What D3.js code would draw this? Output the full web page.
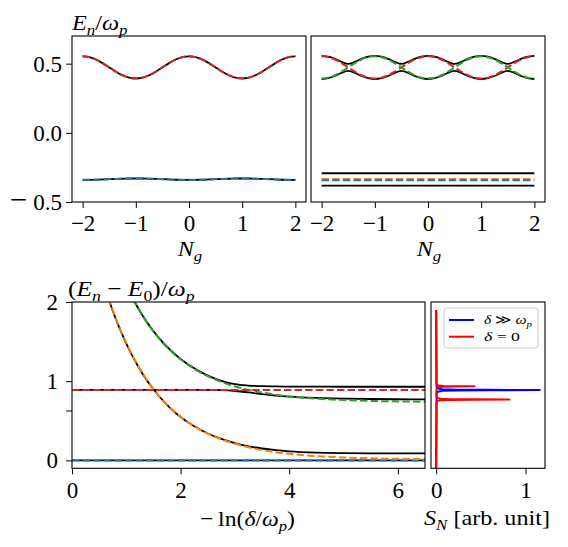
<!DOCTYPE html>
<html><head><meta charset="utf-8">
<script src="https://cdn.jsdelivr.net/npm/d3@7"></script>
<style>
body{margin:0;background:#fff}
text{font-family:"Liberation Serif","DejaVu Serif",serif;fill:#000}
</style>
</head><body>
<svg id="c" width="568" height="547" xmlns="http://www.w3.org/2000/svg"></svg>
<script>
// ---------------- DATA ----------------
const ngGrid = [-2,-1.875,-1.75,-1.625,-1.5,-1.375,-1.25,-1.125,-1,-0.875,-0.75,-0.625,-0.5,-0.375,-0.25,-0.125,0,0.125,0.25,0.375,0.5,0.625,0.75,0.875,1,1.125,1.25,1.375,1.5,1.625,1.75,1.875,2];
// top-left panel (exact = approx)
const leftUpper = [0.553,0.547,0.530,0.504,0.473,0.442,0.416,0.399,0.393,0.399,0.416,0.442,0.473,0.504,0.530,0.547,0.553,0.547,0.530,0.504,0.473,0.442,0.416,0.399,0.393,0.399,0.416,0.442,0.473,0.504,0.530,0.547,0.553];
const leftLower = [-0.340,-0.340,-0.339,-0.337,-0.335,-0.333,-0.332,-0.330,-0.330,-0.330,-0.332,-0.333,-0.335,-0.337,-0.339,-0.340,-0.340,-0.340,-0.339,-0.337,-0.335,-0.333,-0.332,-0.330,-0.330,-0.330,-0.332,-0.333,-0.335,-0.337,-0.339,-0.340,-0.340];
// top-right panel
const rightRed = leftUpper;
const rightGreen = [0.393,0.399,0.416,0.442,0.473,0.504,0.530,0.547,0.553,0.547,0.530,0.504,0.473,0.442,0.416,0.399,0.393,0.399,0.416,0.442,0.473,0.504,0.530,0.547,0.553,0.547,0.530,0.504,0.473,0.442,0.416,0.399,0.393];
const rightBlackUp = [0.557,0.551,0.535,0.513,0.498,0.513,0.535,0.551,0.557,0.551,0.535,0.513,0.498,0.513,0.535,0.551,0.557,0.551,0.535,0.513,0.498,0.513,0.535,0.551,0.557,0.551,0.535,0.513,0.498,0.513,0.535,0.551,0.557];
const rightBlackLo = [0.389,0.395,0.411,0.434,0.448,0.434,0.411,0.395,0.389,0.395,0.411,0.434,0.448,0.434,0.411,0.395,0.389,0.395,0.411,0.434,0.448,0.434,0.411,0.395,0.389,0.395,0.411,0.434,0.448,0.434,0.411,0.395,0.389];
const ngEnds = [-2, 2];
const rightFlatBlack = [-0.292, -0.382];
const rightFlatOrange = -0.333;
const rightFlatBlue = -0.343;
// bottom-left panel
const lnGrid = [0,0.6,0.7,0.8,0.9,1.0,1.1,1.2,1.4,1.6,1.8,2.0,2.25,2.5,2.75,3.0,3.25,3.5,3.75,4.0,4.5,5.0,5.5,6.0,6.5];
const orangeApprox = [4.01,2.205,1.996,1.807,1.636,1.482,1.342,1.215,0.996,0.818,0.671,0.551,0.432,0.338,0.266,0.209,0.165,0.131,0.104,0.083,0.054,0.037,0.026,0.020,0.016];
const greenApprox = [4.735,2.930,2.721,2.532,2.361,2.207,2.067,1.940,1.721,1.543,1.396,1.276,1.157,1.063,0.991,0.934,0.890,0.856,0.829,0.808,0.779,0.762,0.751,0.745,0.741];
const exactLow = [4.001,2.197,1.988,1.799,1.628,1.475,1.335,1.208,0.990,0.813,0.667,0.548,0.431,0.340,0.271,0.218,0.178,0.150,0.129,0.114,0.098,0.092,0.089,0.089,0.088];
const exactMid = [0.890,0.890,0.890,0.890,0.890,0.890,0.890,0.890,0.890,0.890,0.890,0.890,0.890,0.890,0.886,0.876,0.858,0.836,0.818,0.805,0.789,0.780,0.775,0.772,0.770];
const exactUp = [4.74,2.934,2.725,2.536,2.365,2.211,2.071,1.944,1.725,1.547,1.400,1.281,1.163,1.071,1.005,0.962,0.945,0.937,0.934,0.932,0.931,0.930,0.930,0.930,0.930];
const lnEnds = [0, 6.5];
const redLevel = 0.89;
const groundLevel = 0;
// bottom-right spectrum
const specRedE = [-0.1,0.728,0.748,0.758,0.763,0.7655,0.768,0.7705,0.773,0.778,0.788,0.808,0.895,0.915,0.925,0.930,0.9325,0.935,0.9375,0.940,0.945,0.955,0.975,1.9];
const specRedS = [0,0.003,0.013,0.048,0.164,0.41,0.82,0.41,0.164,0.048,0.013,0.003,0.002,0.007,0.025,0.086,0.215,0.43,0.215,0.086,0.025,0.007,0.002,0];
const specBlueE = [-0.1,0.848,0.868,0.878,0.883,0.8855,0.888,0.8905,0.893,0.898,0.908,0.928,1.9];
const specBlueS = [0,0.005,0.018,0.068,0.232,0.58,1.16,0.58,0.232,0.068,0.018,0.005,0];
// ticks
const ngTicks = [-2,-1,0,1,2];
const topYTicks = [-0.5,0,0.5];
const lnTicks = [0,2,4,6];
const botYTicks = [0,0.63,1,2];
const botYLabels = ["0","","1","2"];
const specTicks = [0,1];
const legendLabels = ["δ ≫ ω_p","δ = 0"];

// ---------------- STYLE ----------------
const C = {blue:"#1f77b4", orange:"#ff7f0e", green:"#2ca02c", red:"#d62728", black:"#000"};
const DASH = "7.4,3.2";
const LW = 2.0, LWK = 1.8;
const TICKFS = 23;
const LABFS = 22;

const svg = d3.select("#c");
let clipN = 0;
function panel(x0,x1,y0,y1,xd,yd){
  const x = d3.scaleLinear().domain(xd).range([x0,x1]);
  const y = d3.scaleLinear().domain(yd).range([y1,y0]);
  const id = "clip"+(clipN++);
  svg.append("clipPath").attr("id",id).append("rect")
    .attr("x",x0).attr("y",y0).attr("width",x1-x0).attr("height",y1-y0);
  const g = svg.append("g").attr("clip-path",`url(#${id})`);
  return {x,y,g,x0,x1,y0,y1};
}
function frame(p){
  svg.append("rect").attr("x",p.x0).attr("y",p.y0).attr("width",p.x1-p.x0).attr("height",p.y1-p.y0)
    .attr("fill","none").attr("stroke","#000").attr("stroke-width",1.1);
}
function line(p, xs, ys, color, dashed, lw){
  const pts = xs.map((v,i)=>[v,ys[i]]);
  p.g.append("path").datum(pts)
    .attr("d", d3.line().x(d=>p.x(d[0])).y(d=>p.y(d[1])).curve(d3.curveMonotoneX))
    .attr("fill","none").attr("stroke",color).attr("stroke-width",lw||(dashed?LW:LWK))
    .attr("stroke-dasharray",dashed?DASH:null);
}
function flat(p, xs, level, color, dashed){
  line(p, xs, xs.map(()=>level), color, dashed);
}
function styleAxis(sel, bigMinus){
  sel.attr("font-family",null).attr("font-size",null);
  sel.select(".domain").remove();
  sel.selectAll(".tick line").attr("stroke","#000").attr("stroke-width",1);
  sel.selectAll(".tick text")
    .style("font-family",'"Liberation Serif",serif').style("font-size",TICKFS+"px").attr("fill","#000")
    .each(function(){
      const t = d3.select(this); const s = t.text();
      if(bigMinus && s.startsWith("−")){
        const base = 0.32*TICKFS;
        t.attr("dy",null).text(null);
        t.append("tspan").style("font-size","31px").attr("dy",base+0.6).text("−");
        t.append("tspan").attr("dy",-0.6).attr("dx",6).text(s.slice(1));
      }
    });
}
function xAxis(p, ticks, fmt, pad){
  const a = svg.append("g").attr("transform",`translate(0,${p.y1})`)
    .call(d3.axisBottom(p.x).tickValues(ticks).tickFormat(fmt).tickSize(6).tickPadding(pad));
  styleAxis(a, false); return a;
}
function yAxis(p, ticks, fmt, pad){
  const a = svg.append("g").attr("transform",`translate(${p.x0},0)`)
    .call(d3.axisLeft(p.y).tickValues(ticks).tickFormat(fmt).tickSize(6).tickPadding(pad));
  styleAxis(a, true); return a;
}
// math-ish label; parts: [text, flags] flags: i=italic, s=subscript
function mathLabel(x, y, parts, anchor, fs, targetW){
  const t = svg.append("text").attr("x",x).attr("y",y).attr("text-anchor",anchor)
    .style("font-size",fs+"px");
  let inSub = false;
  const sh = 0.24*fs;
  parts.forEach(([s,f])=>{
    const sp = t.append("tspan").text(s);
    const sub = f.includes("s");
    if(f.includes("i")) sp.style("font-style","italic");
    if(sub){ sp.style("font-size",(0.7*fs)+"px"); if(!inSub) sp.attr("dy",sh); }
    else if(inSub) sp.attr("dy",-sh);
    inSub = sub;
  });
  if(targetW){
    const w = t.node().getBBox().width;
    const s = targetW / w;
    t.attr("transform",`translate(${x},${y}) scale(${s},1) translate(${-x},${-y})`);
  }
  return t;
}
function parseMath(str){
  const out=[]; const re=/(_[^\s]+)|([A-Za-zδω])|([^A-Za-zδω_]+)/g; let m;
  while((m=re.exec(str))){
    if(m[1]) out.push([m[1].slice(1),"is"]);
    else if(m[2]) out.push([m[2],"i"]);
    else out.push([m[3],""]);
  }
  return out;
}

// ---------------- PANEL A ----------------
const A = panel(72,306,36,202,[-2.2,2.2],[-0.5,0.7]);
line(A, ngGrid, leftUpper, C.black, false);
line(A, ngGrid, leftUpper, C.red, true);
line(A, ngGrid, leftLower, C.black, false);
line(A, ngGrid, leftLower, C.blue, true);
frame(A);
xAxis(A, ngTicks, d3.format("d"), 7);
yAxis(A, topYTicks, d3.format(".1f"), 4);

// ---------------- PANEL B ----------------
const B = panel(311,545,36,202,[-2.2,2.2],[-0.5,0.7]);
rightFlatBlack.forEach(v=>flat(B, ngEnds, v, C.black, false));
flat(B, ngEnds, rightFlatOrange, C.orange, true);
flat(B, ngEnds, rightFlatBlue, C.blue, true);
line(B, ngGrid, rightBlackUp, C.black, false);
line(B, ngGrid, rightBlackLo, C.black, false);
line(B, ngGrid, rightRed, C.red, true);
line(B, ngGrid, rightGreen, C.green, true);
frame(B);
xAxis(B, ngTicks, d3.format("d"), 7);

// ---------------- PANEL C ----------------
const Cp = panel(72,425,302,468.3,[0,6.5],[-0.1,2]);
flat(Cp, lnEnds, groundLevel, C.black, false);
line(Cp, lnGrid, exactLow, C.black, false);
line(Cp, lnGrid, exactMid, C.black, false);
line(Cp, lnGrid, exactUp, C.black, false);
flat(Cp, lnEnds, groundLevel, C.blue, true);
line(Cp, lnGrid, orangeApprox, C.orange, true);
line(Cp, lnGrid, greenApprox, C.green, true);
flat(Cp, lnEnds, redLevel, C.red, true);
frame(Cp);
xAxis(Cp, lnTicks, d3.format("d"), 7.5);
yAxis(Cp, botYTicks, (d,i)=>botYLabels[i], 8);

// ---------------- PANEL D ----------------
const D = panel(431,545,302,468.3,[-0.058,1.218],[-0.1,2]);
function spec(xsS, ysE, color){
  const pts = xsS.map((v,i)=>[v,ysE[i]]);
  D.g.append("path").datum(pts)
    .attr("d", d3.line().x(d=>D.x(d[0])).y(d=>D.y(d[1])))
    .attr("fill","none").attr("stroke",color).attr("stroke-width",2).attr("stroke-linejoin","round");
}
spec(specBlueS, specBlueE, "#0000ff");
spec(specRedS, specRedE, "#ff0000");
frame(D);
xAxis(D, specTicks, d3.format("d"), 7.5);
// legend
const lg = svg.append("g");
lg.append("rect").attr("x",444).attr("y",308).attr("width",94).attr("height",40).attr("rx",3)
  .attr("fill","#fff").attr("fill-opacity",0.8).attr("stroke","#cccccc").attr("stroke-width",1);
const legColors = ["#0000ff","#ff0000"];
const legW = [49,36];
legendLabels.forEach((lab,i)=>{
  const yy = 320 + i*16.7;
  lg.append("line").attr("x1",449).attr("x2",474).attr("y1",yy).attr("y2",yy)
    .attr("stroke",legColors[i]).attr("stroke-width",2);
  mathLabel(484, yy+4, parseMath(lab), "start", 13, legW[i]);
});

// ---------------- LABELS ----------------
mathLabel(72, 30, [["E","i"],["n","is"],["/",""],["ω","i"],["p","is"]], "start", LABFS, 57);
mathLabel(190, 256, [["N","i"],["g","is"]], "middle", LABFS, 26);
mathLabel(429, 256, [["N","i"],["g","is"]], "middle", LABFS, 26);
mathLabel(68, 296, [["(",""],["E","i"],["n","is"],[" − ",""],["E","i"],["0","s"],[")/",""],["ω","i"],["p","is"]], "start", LABFS, 127);
mathLabel(247.5, 526, [["−\u2009ln(",""],["δ","i"],["/",""],["ω","i"],["p","is"],[")",""]], "middle", LABFS, 95);
mathLabel(487, 525, [["S","i"],["N","is"],[" [arb.  unit]",""]], "middle", LABFS, 126);
</script>
</body></html>
